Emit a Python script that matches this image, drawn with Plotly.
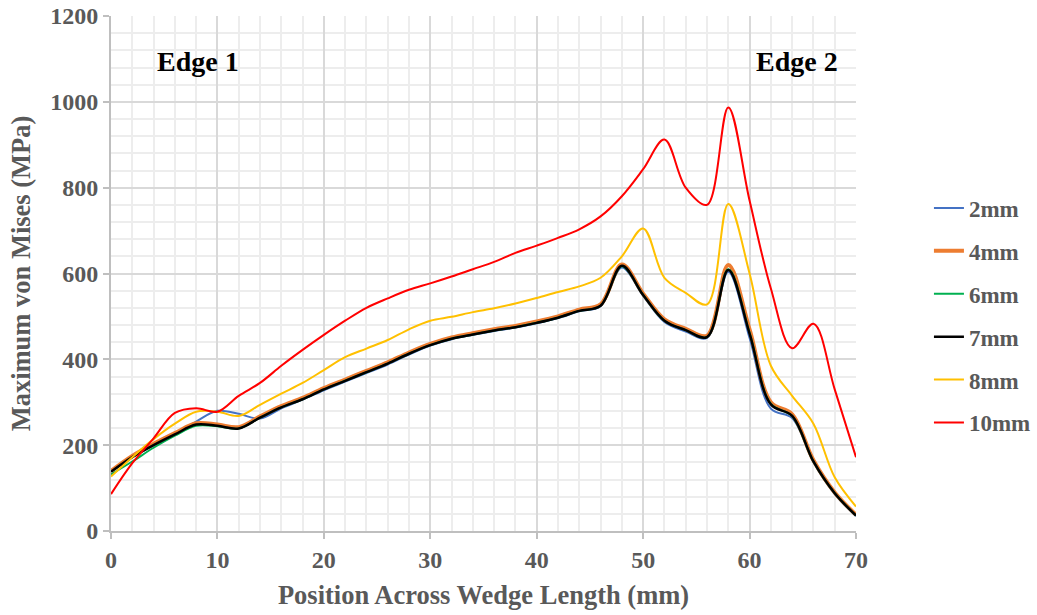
import plotly.graph_objects as go

# Position across the wedge (mm)
position = list(range(0, 72, 2))

# Maximum von Mises stress (MPa) per wedge thickness
s_2mm = [140, 172, 200, 226, 255, 280, 273, 262, 286, 306, 328, 348, 368, 388, 411, 432,
         447, 457, 466, 474, 484, 496, 512, 524, 614, 548, 487, 465, 450, 604, 450, 285,
         263, 160, 86, 35]
s_4mm = [140, 175, 203, 228, 251, 248, 242, 267, 291, 310, 333, 353, 373, 393, 416, 436,
         451, 461, 470, 478, 488, 500, 516, 528, 621, 553, 493, 471, 455, 620, 470, 300,
         272, 165, 90, 38]
s_6mm = [132, 162, 194, 222, 245, 244, 239, 264, 288, 307, 330, 350, 370, 390, 413, 433,
         448, 458, 467, 475, 485, 497, 513, 525, 617, 550, 490, 468, 452, 610, 462, 296,
         268, 162, 88, 36]
s_7mm = [138, 172, 200, 225, 248, 245, 239, 264, 288, 307, 330, 350, 370, 390, 413, 433,
         448, 458, 467, 475, 485, 497, 513, 525, 618, 550, 490, 468, 452, 608, 460, 295,
         268, 162, 88, 36]
s_8mm = [127, 172, 214, 250, 278, 278, 268, 294, 320, 345, 375, 405, 425, 445, 470, 490,
         499, 510, 519, 530, 543, 557, 570, 590, 640, 705, 590, 555, 528, 762, 600, 385,
         315, 250, 125, 57]
s_10mm = [86, 158, 216, 275, 286, 278, 315, 345, 385, 422, 457, 490, 520, 542, 562, 577,
          593, 610, 627, 648, 665, 683, 703, 733, 780, 843, 912, 800, 760, 987, 770, 565,
          426, 483, 330, 172]

series = [
    ("2mm", s_2mm, "#4472C4", 2),
    ("4mm", s_4mm, "#ED7D31", 4),
    ("6mm", s_6mm, "#00B050", 2),
    ("7mm", s_7mm, "#000000", 2.5),
    ("8mm", s_8mm, "#FFC000", 2),
    ("10mm", s_10mm, "#FF0000", 2),
]

FONT = "Liberation Serif"
GREY = "#595959"

fig = go.Figure()
for name, vals, color, width in series:
    fig.add_trace(go.Scatter(
        x=position, y=vals, name=f"<b>{name}</b>", mode="lines",
        line=dict(color=color, width=width, shape="spline", smoothing=1.0),
        legendgroup=name,
    ))

axis_common = dict(
    showline=True, linecolor="#BFBFBF", linewidth=2,
    ticks="outside", tickcolor="#BFBFBF", ticklen=6, tickwidth=2,
    showgrid=True, gridcolor="#D9D9D9", gridwidth=2,
    zeroline=False, automargin=False,
    tickfont=dict(family=FONT, size=24, color=GREY),
    tickprefix="<b>", ticksuffix="</b>",
)

fig.update_layout(
    width=1037, height=615,
    margin=dict(l=111, r=181, t=16, b=84),
    paper_bgcolor="white", plot_bgcolor="white",
    font=dict(family=FONT, color=GREY),
    xaxis=dict(
        range=[0, 70], dtick=10, tick0=0,
        minor=dict(dtick=2, showgrid=True, gridcolor="#EDEDED", gridwidth=2),
        title=dict(text="<b>Position Across Wedge Length (mm)</b>",
                   font=dict(family=FONT, size=26.5, color=GREY), standoff=14),
        **axis_common,
    ),
    yaxis=dict(
        range=[0, 1200], dtick=200, tick0=0,
        minor=dict(dtick=40, showgrid=True, gridcolor="#EDEDED", gridwidth=2),
        title=dict(text="<b>Maximum von Mises (MPa)</b>",
                   font=dict(family=FONT, size=26.5, color=GREY), standoff=12),
        **axis_common,
    ),
    legend=dict(
        xref="container", yref="container",
        x=0.8958, y=0.487, xanchor="left", yanchor="middle",
        font=dict(family=FONT, size=23, color=GREY),
        tracegroupgap=10,
        bgcolor="rgba(0,0,0,0)",
    ),
    showlegend=True,
)

for label, xpos in (("Edge 1", 8.2), ("Edge 2", 64.5)):
    fig.add_annotation(
        x=xpos, y=1095, xref="x", yref="y", text=f"<b>{label}</b>",
        showarrow=False, font=dict(family=FONT, size=28, color="black"),
    )

fig.write_html("out.html")
